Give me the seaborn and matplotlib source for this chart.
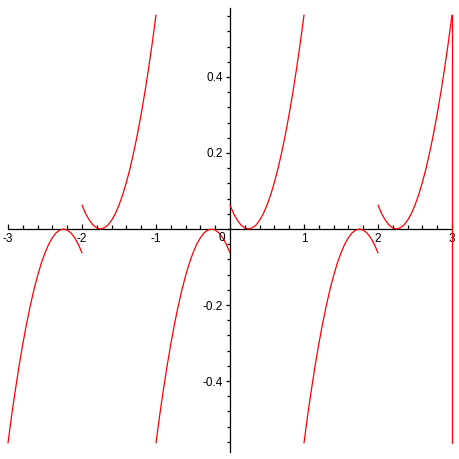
import pandas as pd
import numpy as np
import matplotlib
matplotlib.use('Agg')
import matplotlib.pyplot as plt
from matplotlib.ticker import FixedLocator, MultipleLocator, FixedFormatter
import seaborn as sns

# Set visualization style
sns.set_style('white')
plt.rcParams['font.family'] = ['Liberation Sans', 'DejaVu Sans']
plt.rcParams['axes.unicode_minus'] = False

step_x = [0.00, 0.05, 0.10, 0.15, 0.20, 0.25, 0.30, 0.35, 0.40, 0.45, 0.50,
          0.55, 0.60, 0.65, 0.70, 0.75, 0.80, 0.85, 0.90, 0.95, 1.00]
# pieces that dip to zero near 0.25 and climb to the top
rise_y = [0.063, 0.040, 0.023, 0.010, 0.003, 0.000, 0.003, 0.010, 0.023, 0.040, 0.063,
          0.090, 0.123, 0.160, 0.203, 0.250, 0.303, 0.360, 0.423, 0.490, 0.563]
# pieces that climb from the bottom to zero near 0.75 then fall
fall_y = [-0.563, -0.490, -0.423, -0.360, -0.303, -0.250, -0.203, -0.160, -0.123, -0.090, -0.063,
          -0.040, -0.023, -0.010, -0.003, 0.000, -0.003, -0.010, -0.023, -0.040, -0.063]
rise_starts = [-2, 0, 2]
fall_starts = [-3, -1, 1]
# vertical line drawn at the right end
jump_x = [3, 3]
jump_y = [-0.563, 0.563]

x_ticks = [-3, -2, -1, 0, 1, 2, 3]
x_labels = ['-3', '-2', '-1', '', '1', '2', '3']
y_ticks = [-0.4, -0.2, 0.2, 0.4]
y_labels = ['-0.4', '-0.2', '0.2', '0.4']

# Build one long table, one unit per piece
rows = []
seg = 0
for s in fall_starts:
    for dx, y in zip(step_x, fall_y):
        rows.append({'x': s + dx, 'y': y, 'seg': seg})
    seg += 1
for s in rise_starts:
    for dx, y in zip(step_x, rise_y):
        rows.append({'x': s + dx, 'y': y, 'seg': seg})
    seg += 1
for x, y in zip(jump_x, jump_y):
    rows.append({'x': x, 'y': y, 'seg': seg})
curve_df = pd.DataFrame(rows)

fig = plt.figure(figsize=(4.59, 4.59), dpi=100)
ax = fig.add_axes([8 / 459, 0, 444 / 459, 1])

sns.lineplot(data=curve_df, x='x', y='y', units='seg', estimator=None, sort=False,
             color='red', linewidth=0.9, ax=ax, legend=False, clip_on=False)

ax.set_xlim(-3, 3)
ax.set_ylim(-230 / 380, 229 / 380)

# Axes through the origin, Maple style
for side in ['top', 'right']:
    ax.spines[side].set_visible(False)
ax.spines['left'].set_position(('data', 0))
ax.spines['bottom'].set_position(('data', 0))
ax.spines['left'].set_bounds(-0.587, 0.582)
ax.spines['bottom'].set_bounds(-3, 3)
for side in ['left', 'bottom']:
    ax.spines[side].set_linewidth(0.9)
    ax.spines[side].set_color('black')
    ax.spines[side].set_zorder(1)

ax.xaxis.set_major_locator(FixedLocator(x_ticks))
ax.xaxis.set_major_formatter(FixedFormatter(x_labels))
ax.xaxis.set_minor_locator(MultipleLocator(0.2))
ax.yaxis.set_major_locator(FixedLocator(y_ticks))
ax.yaxis.set_major_formatter(FixedFormatter(y_labels))
ax.yaxis.set_minor_locator(FixedLocator(np.round(np.arange(-0.56, 0.561, 0.04), 2)))

ax.tick_params(axis='x', which='both', bottom=True, direction='in', color='black', width=0.9)
ax.tick_params(axis='x', which='major', length=3.5, pad=3, labelsize=8.5, labelcolor='black')
ax.tick_params(axis='x', which='minor', length=3)
ax.tick_params(axis='y', which='both', left=True, direction='out', color='black', width=0.9)
ax.tick_params(axis='y', which='major', length=3, pad=2, labelsize=8.5, labelcolor='black')
ax.tick_params(axis='y', which='minor', length=2)

ax.annotate('0', xy=(0, 0), xytext=(-8, -3), textcoords='offset pixels',
            ha='center', va='top', fontsize=8.5, color='black')

ax.set_xlabel('')
ax.set_ylabel('')
ax.grid(False)

plt.savefig('out.png', dpi=100)
